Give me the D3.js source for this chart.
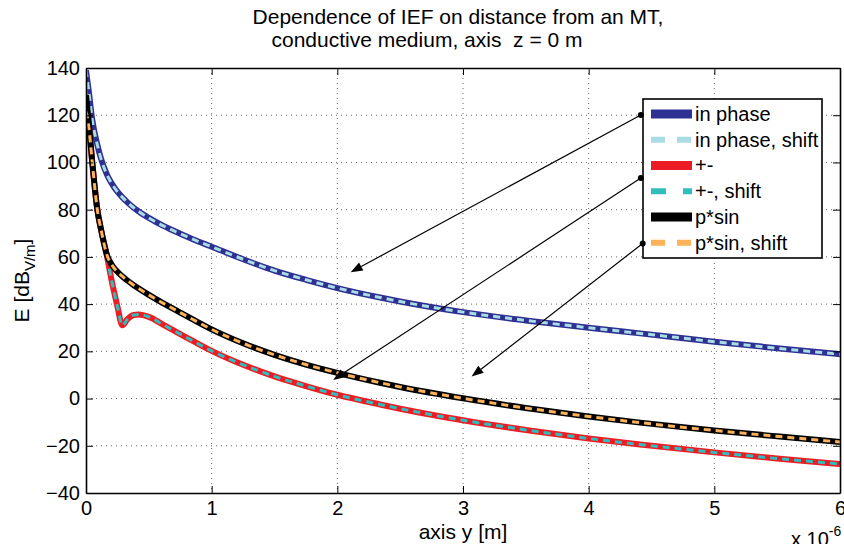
<!DOCTYPE html>
<html><head><meta charset="utf-8">
<script src="https://cdn.jsdelivr.net/npm/d3@7"></script>
<style>body{margin:0;background:#fff;} svg{display:block;font-family:"Liberation Sans",Arial,Helvetica,sans-serif;} text{white-space:pre;}</style>
</head><body><svg id="c" width="844" height="544"></svg>
<script>
// x positions in units of 1e-6 m
const xValues        = [0, 0.02, 0.05, 0.09, 0.12, 0.17, 0.2, 0.22, 0.25, 0.29, 0.33, 0.38, 0.42, 0.5, 0.62, 0.75, 0.85, 1.0, 1.25, 1.5, 1.75, 2.0, 2.34, 2.5, 3.0, 3.5, 4.0, 4.41, 5.0, 5.52, 6.0];
const inPhase        = [139, 131, 118, 107.5, 101.5, 94.5, 91.5, 89.8, 87.6, 85.2, 83.1, 80.8, 79.2, 76.5, 73, 69.8, 67.5, 64.3, 59, 54.2, 50.3, 46.8, 42.8, 41.1, 36.6, 33.1, 30, 27.6, 24.1, 21.2, 18.8];
const inPhaseShift   = [139, 131, 118, 107.5, 101.5, 94.5, 91.5, 89.8, 87.6, 85.2, 83.1, 80.8, 79.2, 76.5, 73, 69.8, 67.5, 64.3, 59, 54.2, 50.3, 46.8, 42.8, 41.1, 36.6, 33.1, 30, 27.6, 24.1, 21.2, 18.8];
const plusMinus      = [125, 117, 100, 80, 71.5, 59.5, 51, 46, 39, 31, 33.6, 35.4, 35.6, 34.6, 31.1, 27.3, 24.4, 20.2, 14.3, 9.4, 5.3, 1.6, -2.5, -4.3, -9.2, -13.3, -16.9, -19.5, -22.8, -25.5, -27.7];
const plusMinusShift = [130.5, 118, 100, 80, 71.5, 59.5, 51, 46, 39, 31, 33.6, 35.4, 35.6, 34.6, 31.1, 27.3, 24.4, 20.2, 14.3, 9.4, 5.3, 1.6, -2.5, -4.3, -9.2, -13.3, -16.9, -19.5, -22.8, -25.5, -27.7];
const pSin           = [128.5, 118, 100, 80, 71.5, 60.3, 57.1, 55.5, 53.7, 51.7, 50, 48, 46.6, 43.9, 40.2, 36.4, 33.5, 29.3, 23.4, 18.5, 14.4, 10.9, 6.7, 4.9, 0.1, -4, -7.6, -10.2, -13.5, -16.1, -18.4];
const pSinShift      = [121.5, 116, 100, 80, 71.5, 60.3, 57.1, 55.5, 53.7, 51.7, 50, 48, 46.6, 43.9, 40.2, 36.4, 33.5, 29.3, 23.4, 18.5, 14.4, 10.9, 6.7, 4.9, 0.1, -4, -7.6, -10.2, -13.5, -16.1, -18.4];
const seriesNames = ["in phase", "in phase, shift", "+-", "+-, shift", "p*sin", "p*sin, shift"];
const xTicks = [0, 1, 2, 3, 4, 5, 6];
const yTicks = [-40, -20, 0, 20, 40, 60, 80, 100, 120, 140];
const titleLines = ["Dependence of IEF on distance from an MT,", "conductive medium, axis  z = 0 m"];
// annotation arrows (data coordinates): tail at legend, head in plot
const arrowTails = [[4.415, 120.1], [4.415, 93.4], [4.43, 65.7]];
const arrowHeads = [[2.106, 53.5], [1.967, 7.9], [3.068, 9.3]];

const seriesData = [inPhase, inPhaseShift, plusMinus, plusMinusShift, pSin, pSinShift];
const styles = [
  {color: "#2E3192", width: 6, dash: null, legDash: null, legW: 9},
  {color: "#A9DCE5", width: 3, dash: "7,5", legDash: "14,12", legW: 6},
  {color: "#ED1C24", width: 6, dash: null, legDash: null, legW: 9},
  {color: "#30BEBC", width: 3, dash: "7,5", legDash: "15,17", legW: 6},
  {color: "#000000", width: 6, dash: null, legDash: null, legW: 9},
  {color: "#FBB25A", width: 3, dash: "7,5", legDash: "14,12", legW: 6}
];

const svg = d3.select("#c");
const L = 86, R = 840, T = 68, B = 493;
const x = d3.scaleLinear().domain([0, 6]).range([L, R]);
const y = d3.scaleLinear().domain([-40, 140]).range([B, T]);

svg.append("defs").append("clipPath").attr("id", "clip")
  .append("rect").attr("x", L).attr("y", T).attr("width", R - L).attr("height", B - T);

// grid
const grid = svg.append("g").attr("stroke", "#666").attr("stroke-width", 1).attr("stroke-dasharray", "1,4");
grid.selectAll(".gx").data(xTicks.slice(1, -1)).join("line")
  .attr("x1", d => x(d)).attr("x2", d => x(d)).attr("y1", T).attr("y2", B);
grid.selectAll(".gy").data(yTicks.slice(1, -1)).join("line")
  .attr("y1", d => y(d)).attr("y2", d => y(d)).attr("x1", L).attr("x2", R);

// series
const line = d3.line().x((d, i) => x(xValues[i])).y(d => y(d)).curve(d3.curveMonotoneX);
const lines = svg.append("g").attr("clip-path", "url(#clip)");
seriesData.forEach((s, k) => {
  lines.append("path").datum(s).attr("d", line)
    .attr("fill", "none").attr("stroke", styles[k].color)
    .attr("stroke-width", styles[k].width)
    .attr("stroke-dasharray", styles[k].dash)
    .attr("stroke-linejoin", "round");
});

// axes with inward ticks
const tickLen = 7;
svg.append("g").attr("transform", `translate(0,${B})`)
  .call(d3.axisBottom(x).tickValues(xTicks).tickSizeInner(-tickLen).tickSizeOuter(0).tickPadding(8).tickFormat(d3.format("d")));
svg.append("g").attr("transform", `translate(0,${T})`)
  .call(d3.axisTop(x).tickValues(xTicks).tickSizeInner(-tickLen).tickSizeOuter(0).tickFormat(""));
svg.append("g").attr("transform", `translate(${L},0)`)
  .call(d3.axisLeft(y).tickValues(yTicks).tickSizeInner(-tickLen).tickSizeOuter(0).tickPadding(6).tickFormat(d3.format("d")));
svg.append("g").attr("transform", `translate(${R},0)`)
  .call(d3.axisRight(y).tickValues(yTicks).tickSizeInner(-tickLen).tickSizeOuter(0).tickFormat(""));
svg.selectAll(".domain").attr("stroke", "#000").attr("stroke-width", 1.6);
svg.selectAll(".tick line").attr("stroke", "#000").attr("stroke-width", 1);
svg.selectAll(".tick text").attr("font-size", 20).attr("font-family", "Liberation Sans, Arial, sans-serif").attr("fill", "#000");

// titles & labels
const title = svg.append("g").attr("font-size", 21).attr("fill", "#000");
title.append("text").attr("x", 458).attr("y", 24).attr("text-anchor", "middle").text(titleLines[0]);
title.append("text").attr("x", 427).attr("y", 47).attr("text-anchor", "middle").text(titleLines[1]);

svg.append("text").attr("x", (L + R) / 2).attr("y", 539).attr("text-anchor", "middle")
  .attr("font-size", 21).text("axis y [m]");
const ex = svg.append("text").attr("x", 791).attr("y", 546).attr("font-size", 20);
ex.append("tspan").text("x 10");
ex.append("tspan").attr("dy", -10).attr("font-size", 14).text("-6");

const yl = svg.append("text").attr("transform", `translate(29,${(T + B) / 2}) rotate(-90)`)
  .attr("text-anchor", "middle").attr("font-size", 21);
yl.append("tspan").text("E [dB");
yl.append("tspan").attr("dy", 6).attr("font-size", 15).text("V/m");
yl.append("tspan").attr("dy", -6).text("]");

// arrows
const arr = svg.append("g");
arrowTails.forEach((t, i) => {
  const x1 = x(t[0]), y1 = y(t[1]), x2 = x(arrowHeads[i][0]), y2 = y(arrowHeads[i][1]);
  const ang = Math.atan2(y2 - y1, x2 - x1);
  const len = 12, hw = 4.5;
  const bx = x2 - len * Math.cos(ang), by = y2 - len * Math.sin(ang);
  arr.append("line").attr("x1", x1).attr("y1", y1).attr("x2", bx).attr("y2", by)
    .attr("stroke", "#000").attr("stroke-width", 1.2);
  const px = -Math.sin(ang) * hw, py = Math.cos(ang) * hw;
  arr.append("path").attr("d", `M${x2},${y2}L${bx + px},${by + py}L${bx - px},${by - py}Z`).attr("fill", "#000");
});

// legend
const lg = svg.append("g");
lg.append("rect").attr("x", 643).attr("y", 99).attr("width", 179).attr("height", 159)
  .attr("fill", "#fff").attr("stroke", "#000").attr("stroke-width", 1.6);
const rowY = d3.scalePoint().domain(seriesNames).range([114, 242.7]);
seriesNames.forEach((n, k) => {
  const yy = rowY(n);
  lg.append("line").attr("x1", 651).attr("x2", 692).attr("y1", yy).attr("y2", yy)
    .attr("stroke", styles[k].color).attr("stroke-width", styles[k].legW)
    .attr("stroke-dasharray", styles[k].legDash);
  lg.append("text").attr("x", 695).attr("y", yy).attr("dy", "0.35em").attr("font-size", 20).text(n);
});
// dots at arrow tails (on legend edge)
arrowTails.forEach(t => {
  svg.append("circle").attr("cx", x(t[0])).attr("cy", y(t[1])).attr("r", 3).attr("fill", "#000");
});
</script></body></html>
